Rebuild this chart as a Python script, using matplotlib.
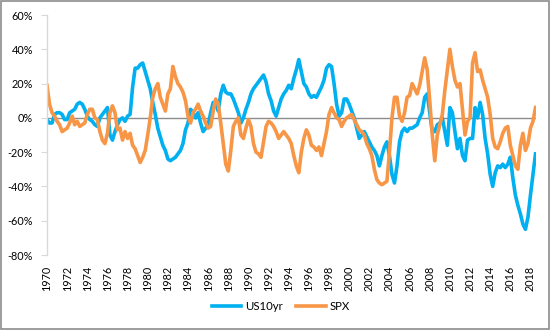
import numpy as np
import matplotlib
matplotlib.use("Agg")
import matplotlib.pyplot as plt
from matplotlib.patches import Rectangle

plt.rcParams['font.family'] = ['Lato', 'DejaVu Sans']

start_year = 1970.0
step = 0.25  # quarterly readings

us10yr = [
    -1, -3, -3, 2,      # 1970
    3, 3, 2, -1,        # 1971
    -1, 3, 4, 5,        # 1972
    8, 9, 8, 5,         # 1973
    1, -1, -2, -4,      # 1974
    -5, 0, 2, 4,        # 1975
    6, -10, -13, -8,    # 1976
    -4, -1, 0, -2,      # 1977
    1, 2, 18, 29,       # 1978
    29, 31, 32, 27,     # 1979
    22, 17, 9, 2,       # 1980
    -6, -11, -16, -19,  # 1981
    -24, -25, -24, -23, # 1982
    -21, -19, -15, -7,  # 1983
    -3, 5, 3, 0,        # 1984
    3, -3, -8, -6,      # 1985
    -4, 3, 9, 8,        # 1986
    4, 14, 19, 15,      # 1987
    14, 14, 11, 7,      # 1988
    3, -3, 0, 5,        # 1989
    9, 14, 17, 19,      # 1990
    21, 23, 25, 21,     # 1991
    14, 10, 4, 1,       # 1992
    6, 11, 14, 16,      # 1993
    19, 17, 23, 28,     # 1994
    34, 27, 20, 18,     # 1995
    14, 12, 13, 12,     # 1996
    15, 18, 22, 29,     # 1997
    31, 30, 20, 8,      # 1998
    1, 3, 11, 11,       # 1999
    8, 4, 0, -6,        # 2000
    -12, -10, -8, -11,  # 2001
    -14, -17, -19, -22, # 2002
    -28, -22, -17, -14, # 2003
    -22, -33, -38, -28, # 2004
    -14, -8, -6, -8,    # 2005
    -6, -6, -5, -4,     # 2006
    0, 3, 12, 14,       # 2007
    3, -8, -8, -4,      # 2008
    -3, 0, -8, -16,     # 2009
    6, 3, -8, -18,      # 2010
    -12, -22, -25, -13, # 2011
    -12, -12, 6, 0,     # 2012
    9, 2, -12, -21,     # 2013
    -33, -40, -32, -28, # 2014
    -29, -27, -29, -27, # 2015
    -23, -35, -45, -51, # 2016
    -56, -62, -65, -58, # 2017
    -45, -33, -21,      # 2018
]

spx = [
    19, 8, 3, 1,        # 1970
    -2, -4, -8, -7,     # 1971
    -6, -3, 1, -4,      # 1972
    -2, -5, -4, -3,     # 1973
    2, 5, 5, 0,         # 1974
    -1, -8, -13, -15,   # 1975
    -9, 3, 7, 3,        # 1976
    -7, -6, -13, -8,    # 1977
    -12, -9, -16, -18,  # 1978
    -22, -26, -23, -19, # 1979
    -10, 0, 12, 17,     # 1980
    20, 12, 8, 4,       # 1981
    14, 17, 30, 24,     # 1982
    20, 18, 15, 10,     # 1983
    1, -3, 3, 5,        # 1984
    8, 4, 1, -3,        # 1985
    -6, -5, 4, 11,      # 1986
    8, -3, -15, -27,    # 1987
    -31, -19, -5, -2,   # 1988
    0, -10, -12, -6,    # 1989
    -1, -5, -15, -20,   # 1990
    -21, -23, -14, -5,  # 1991
    -2, -3, -5, -8,     # 1992
    -12, -10, -8, -10,  # 1993
    -12, -15, -22, -28, # 1994
    -32, -20, -12, -7,  # 1995
    -10, -16, -17, -19, # 1996
    -17, -22, -15, -8,  # 1997
    2, 6, 3, 0,         # 1998
    -1, -5, -2, 0,      # 1999
    1, 2, -1, -4,       # 2000
    -7, -8, -10, -15,   # 2001
    -18, -22, -30, -36, # 2002
    -38, -39, -38, -37, # 2003
    -20, 0, 12, 12,     # 2004
    1, -2, 3, 12,       # 2005
    13, 20, 17, 14,     # 2006
    19, 27, 35, 28,     # 2007
    10, -10, -25, -10,  # 2008
    -4, 2, 16, 28,      # 2009
    40, 30, 22, 18,     # 2010
    20, 5, -10, -2,     # 2011
    0, 32, 38, 27,      # 2012
    28, 22, 17, 12,     # 2013
    2, -12, -17, -18,   # 2014
    -14, -9, -6, -5,    # 2015
    -16, -22, -28, -30, # 2016
    -16, -9, -19, -15,  # 2017
    -6, -2, 6,          # 2018
]

series_names = ["US10yr", "SPX"]
series_colors = ["#00B0F0", "#F79646"]
y_ticks = [-80, -60, -40, -20, 0, 20, 40, 60]
x_ticks = list(range(1970, 2019, 2))

dates = start_year + step * np.arange(len(us10yr))

fig = plt.figure(figsize=(5.5, 3.3), dpi=100)
ax = fig.add_axes([47/550, 1-255/330, (536-47)/550, (255-15)/330])

ax.plot(dates, us10yr, color=series_colors[0], lw=2.6, label=series_names[0],
        solid_joinstyle='round')
ax.plot(dates, spx, color=series_colors[1], lw=2.6, label=series_names[1],
        solid_joinstyle='round')
ax.axhline(0, color='#8C8C8C', lw=1.0, zorder=1)

ax.set_xlim(1970, dates[-1] + 0.05)
ax.set_ylim(-80, 60)
ax.set_yticks(y_ticks)
ax.set_yticklabels([f"{v}%" for v in y_ticks])
ax.set_xticks(x_ticks)
ax.set_xticklabels([str(v) for v in x_ticks], rotation=90)

for s in ['top', 'right', 'bottom']:
    ax.spines[s].set_visible(False)
ax.spines['left'].set_color('#D9D9D9')
ax.spines['left'].set_linewidth(1.0)
ax.tick_params(axis='y', length=4, color='#D9D9D9', labelsize=7.8,
               labelcolor='#000000', pad=6)
ax.tick_params(axis='x', length=0, labelsize=7.8, labelcolor='#000000', pad=8)

fig.legend(loc='lower center', bbox_to_anchor=(0.51, 0.025), ncol=2,
           frameon=False, fontsize=8.2, handlelength=2.6, columnspacing=1.2,
           handletextpad=0.3)

fig.patches.append(Rectangle((0.001, 0.002), 0.997, 0.995, transform=fig.transFigure,
                             fill=False, edgecolor='#8C8C8C', lw=1.2))

fig.savefig("out.png", dpi=100)
